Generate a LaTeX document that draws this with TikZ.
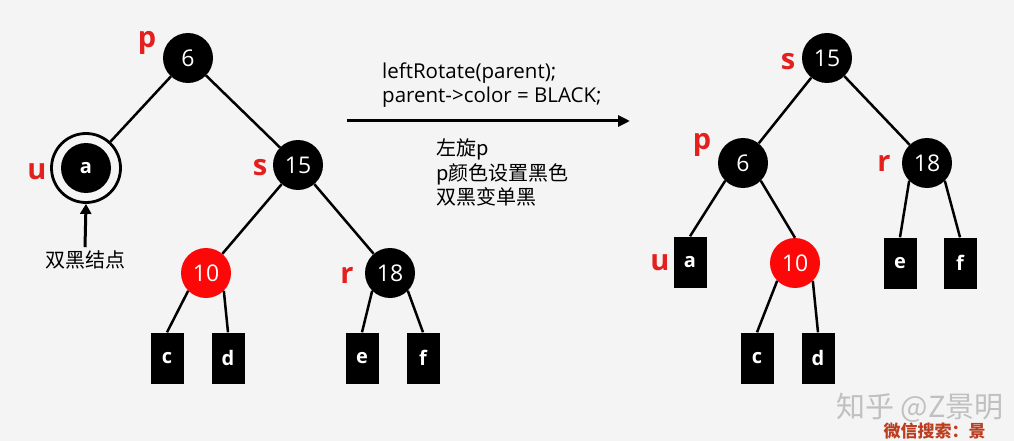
\documentclass[tikz,border=0pt]{standalone}
\usepackage{fontspec}
\setmainfont{Open Sans}
\newfontfamily\cjk{Noto Sans CJK SC}
\usetikzlibrary{arrows.meta, positioning}
\definecolor{bggray}{RGB}{244,244,244}
\definecolor{tagred}{RGB}{228,32,30}
\definecolor{nodered}{RGB}{252,8,8}
\definecolor{wmgray}{RGB}{192,192,192}
\definecolor{wmred}{RGB}{188,62,32}

\begin{document}
\begin{tikzpicture}[x=1pt, y=-1pt,
		bnode/.style={circle, fill=black, text=white, minimum size=50pt, inner sep=0pt, font=\fontsize{23}{23}\selectfont},
		rnode/.style={bnode, fill=nodered},
		leaf/.style={rectangle, fill=black, text=white, minimum width=33pt, minimum height=51pt, inner sep=0pt, font=\bfseries\fontsize{20}{20}\selectfont},
		tag/.style={text=tagred, inner sep=0pt, font=\bfseries\fontsize{29}{29}\selectfont},
		edge/.style={line width=2.5pt},
		note/.style={anchor=west, inner sep=0pt, align=left}]
	\useasboundingbox (0,0) rectangle (1014,441);
	\clip (0,0) rectangle (1014,441);
	\fill[bggray] (0,0) rectangle (1014,441);

	% Before: double black at u
	\node[bnode] (lp) at (188,58) {6};
	\node[bnode, font=\bfseries\fontsize{20}{20}\selectfont] (lu) at (86,168) {a};
	\node[circle, draw, line width=2.8pt, minimum size=69pt] (ring) at (86,168) {};
	\node[bnode] (ls) at (298,165) {15};
	\node[rnode] (lsl) at (206,273) {10};
	\node[bnode] (lr) at (390,273) {18};
	\node[leaf] (lc) at (167,358) {c};
	\node[leaf] (ld) at (228,358) {d};
	\node[leaf] (le) at (362,358) {e};
	\node[leaf] (lf) at (423,358) {f};

	\draw[edge] (lp) -- (ring);
	\draw[edge] (lp) -- (ls);
	\draw[edge] (ls) -- (lsl);
	\draw[edge] (ls) -- (lr);
	\draw[edge] (lsl.south west) -- (lc.north);
	\draw[edge] (lsl.south east) -- (ld.north);
	\draw[edge] (lr.south west) -- (le.north);
	\draw[edge] (lr.south east) -- (lf.north);

	\node[tag] (tlp) at (147,43) {p};
	\node[tag] (tlu) at (37,172) {u};
	\node[tag] (tls) at (260,168) {s};
	\node[tag] (tlr) at (347,275) {r};

	\node[font=\cjk\fontsize{20}{20}\selectfont] (dblab) at (85,260) {双黑结点};
	\draw[line width=3pt, -{Triangle[length=10pt, width=11pt]}] (dblab.north) -- (ring.south);

	% Rotation step
	\coordinate (arrS) at (347,121);
	\coordinate (arrE) at (630,121);
	\draw[line width=3pt, -{Triangle[length=12pt, width=11pt]}] (arrS) -- (arrE);
	\node[note, font=\fontsize{20.5}{24}\selectfont] (code) at (382,85) {leftRotate(parent);\\parent->color = BLACK;};
	\node[note, font=\cjk\fontsize{20}{24.5}\selectfont] (memo) at (436,172.5) {左旋p\\p颜色设置黑色\\双黑变单黑};

	% After: s on top
	\node[bnode] (rs) at (827,58) {15};
	\node[bnode] (rp) at (743,163) {6};
	\node[bnode] (rr) at (927,163) {18};
	\node[leaf] (ra) at (690,262) {a};
	\node[rnode] (rsl) at (795,263) {10};
	\node[leaf] (re) at (900,263) {e};
	\node[leaf] (rf) at (960,263) {f};
	\node[leaf] (rc) at (757,358) {c};
	\node[leaf] (rd) at (818,358) {d};

	\draw[edge] (rs) -- (rp);
	\draw[edge] (rs) -- (rr);
	\draw[edge] (rp.south west) -- (ra.north);
	\draw[edge] (rp.south east) -- (rsl.north);
	\draw[edge] (rr.south west) -- (re.north);
	\draw[edge] (rr.south east) -- (rf.north);
	\draw[edge] (rsl.south west) -- (rc.north);
	\draw[edge] (rsl.south east) -- (rd.north);

	\node[tag] (trs) at (788,62) {s};
	\node[tag] (trp) at (702,145) {p};
	\node[tag] (trr) at (884,163) {r};
	\node[tag] (tru) at (660,263) {u};

	% Watermarks
	\node[text=wmgray, font=\cjk\fontsize{29}{29}\selectfont] (wm) at (920,408) {知乎 @Z景明};
	\node[anchor=west, text=wmred, font=\cjk\bfseries\fontsize{17}{17}\selectfont] (wm2) at (880,431) {微信搜索：景};
\end{tikzpicture}
\end{document}
